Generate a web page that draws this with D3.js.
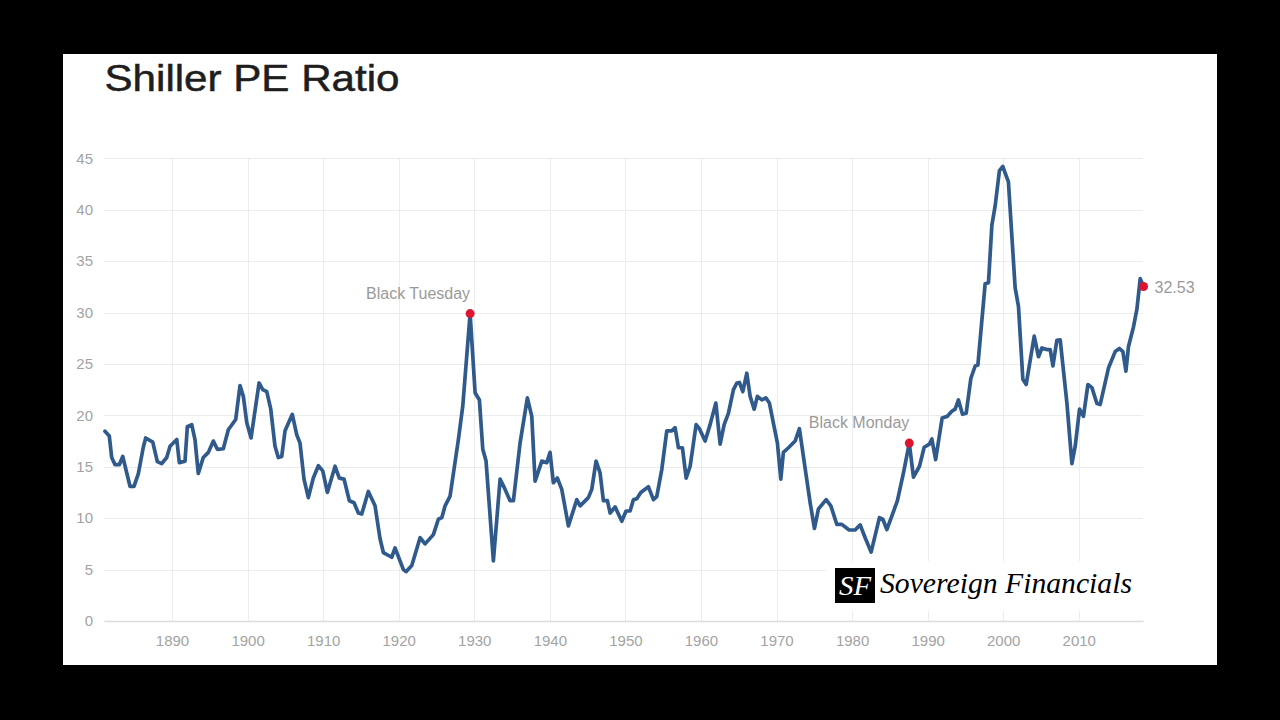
<!DOCTYPE html>
<html><head><meta charset="utf-8">
<script src="https://cdn.jsdelivr.net/npm/d3@7"></script>
<style>html,body{margin:0;padding:0;background:#000;} svg{display:block}</style>
</head><body>
<svg id="c" width="1280" height="720"></svg>
<script>
// ---- data ----
const years = [1881.13,1881.70,1882.02,1882.46,1883.03,1883.48,1884.44,1884.97,1885.54,1886.20,1886.52,1887.45,1888.06,1888.64,1889.30,1889.74,1890.63,1890.97,1891.72,1892.03,1892.61,1893.04,1893.48,1894.14,1894.81,1895.47,1896.00,1896.79,1897.45,1898.43,1899.00,1899.44,1899.89,1900.46,1901.52,1902.01,1902.54,1903.07,1903.63,1904.07,1904.52,1904.96,1905.92,1906.51,1906.94,1907.47,1908.04,1908.70,1909.37,1909.95,1910.56,1911.58,1912.14,1912.77,1913.47,1914.09,1914.66,1915.11,1915.98,1916.87,1917.53,1917.97,1919.08,1919.52,1920.62,1920.97,1921.73,1922.83,1923.49,1924.59,1925.25,1925.70,1926.14,1926.80,1927.90,1928.48,1929.45,1930.11,1930.68,1931.13,1931.56,1932.53,1933.42,1934.08,1934.74,1935.18,1936.06,1937.03,1937.61,1938.05,1938.94,1939.60,1940.03,1940.47,1941.00,1941.58,1942.46,1943.57,1944.01,1945.10,1945.55,1946.12,1946.65,1947.09,1947.62,1947.98,1948.64,1949.52,1950.09,1950.62,1951.06,1951.51,1952.04,1953.05,1953.71,1954.15,1954.82,1955.48,1956.14,1956.58,1957.02,1957.55,1958.04,1958.57,1959.36,1959.80,1960.55,1961.21,1961.97,1962.54,1963.07,1963.63,1964.30,1964.75,1965.09,1965.54,1966.07,1966.51,1967.04,1967.47,1968.06,1968.59,1969.06,1969.68,1970.12,1970.57,1970.91,1971.58,1972.46,1973.03,1973.56,1974.45,1975.02,1975.55,1976.57,1977.19,1977.98,1978.64,1979.61,1980.40,1981.07,1981.73,1982.52,1983.62,1984.07,1984.60,1985.26,1986.00,1986.80,1987.57,1988.12,1988.92,1989.54,1990.24,1990.56,1991.06,1991.92,1992.58,1993.20,1993.64,1994.08,1994.61,1995.10,1995.72,1996.29,1996.65,1997.61,1998.05,1998.50,1998.94,1999.50,1999.95,2000.69,2001.58,2002.02,2002.60,2003.04,2004.10,2004.67,2005.12,2005.78,2006.22,2006.58,2007.10,2007.54,2008.43,2009.09,2009.53,2010.10,2010.62,2011.21,2011.74,2012.40,2012.83,2013.93,2014.82,2015.39,2015.84,2016.24,2016.58,2017.24,2017.69,2018.13,2018.57];
const peValues = [18.46,18.0,15.9,15.2,15.2,16.0,13.1,13.1,14.3,16.9,17.8,17.4,15.5,15.3,15.9,17.0,17.65,15.4,15.55,18.9,19.1,17.65,14.35,15.9,16.4,17.5,16.7,16.75,18.6,19.6,22.9,21.85,19.3,17.8,23.15,22.5,22.3,20.6,17.0,15.9,16.0,18.5,20.1,18.1,17.3,13.8,12.0,13.9,15.1,14.6,12.5,15.05,13.9,13.8,11.7,11.5,10.5,10.4,12.6,11.2,8.0,6.66,6.2,7.1,5.0,4.8,5.4,8.1,7.5,8.4,9.9,10.05,11.2,12.15,17.65,20.9,29.9,22.2,21.5,16.7,15.55,5.85,13.8,12.8,11.7,11.7,17.3,21.7,19.9,13.6,15.55,15.4,16.4,13.45,13.9,12.8,9.25,11.8,11.2,12.0,12.8,15.55,14.4,11.7,11.7,10.5,11.1,9.7,10.7,10.7,11.8,11.9,12.5,13.05,11.8,12.1,14.75,18.5,18.5,18.8,16.85,16.85,13.9,15.05,19.1,18.7,17.5,19.1,21.2,17.2,19.1,20.2,22.5,23.15,23.2,22.3,24.1,21.85,20.6,21.85,21.5,21.7,21.2,18.9,17.3,13.8,16.4,16.85,17.5,18.7,16.0,11.5,9.0,10.9,11.8,11.2,9.4,9.4,8.85,8.85,9.35,8.1,6.7,10.05,9.9,8.9,10.2,11.7,14.4,17.3,14.0,15.05,16.9,17.2,17.7,15.7,19.75,19.9,20.4,20.6,21.5,20.1,20.2,23.6,24.8,24.9,32.8,32.9,38.5,40.4,43.8,44.2,42.7,32.4,30.6,23.5,23.0,27.7,25.7,26.55,26.4,26.4,24.8,27.3,27.35,21.2,15.3,17.0,20.6,19.9,23.0,22.7,21.15,21.05,24.6,26.2,26.5,26.2,24.3,26.7,28.6,30.3,33.3,32.53];
const yTickValues = [0,5,10,15,20,25,30,35,40,45];
const xTickValues = [1890,1900,1910,1920,1930,1940,1950,1960,1970,1980,1990,2000,2010];
const annotationLabels = ["Black Tuesday","Black Monday"];
const annotationYears = [1929.45,1987.57];
const lastLabel = "32.53";
const titleText = "Shiller PE Ratio";
const logoMark = "SF";
const logoText = "Sovereign Financials";

// ---- drawing ----
const svg = d3.select("#c");
svg.append("rect").attr("x",0).attr("y",0).attr("width",1280).attr("height",720).attr("fill","#000");
svg.append("rect").attr("x",63).attr("y",54).attr("width",1154).attr("height",611).attr("fill","#fff");

const L = 104, R = 1143, T = 158.3, B = 621;
const x = d3.scaleLinear().domain([1881, 2018.5]).range([L, R]);
const y = d3.scaleLinear().domain([0, 45]).range([B, T]);
const font = "'Liberation Sans', Arial, Helvetica, sans-serif";

svg.append("text").attr("x",104.5).attr("y",91).attr("font-family",font).attr("font-size",37)
  .attr("fill","#1e1e1e").attr("stroke","#1e1e1e").attr("stroke-width",0.5)
  .attr("textLength",295).attr("lengthAdjust","spacingAndGlyphs").text(titleText);

// grid
const g = svg.append("g");
g.selectAll("line.h").data(yTickValues.filter(v=>v>0)).join("line")
  .attr("x1",L).attr("x2",R).attr("y1",d=>Math.round(y(d))+0.5).attr("y2",d=>Math.round(y(d))+0.5)
  .attr("stroke","#ececec").attr("stroke-width",1);
g.selectAll("line.v").data(xTickValues).join("line")
  .attr("x1",d=>Math.round(x(d))+0.5).attr("x2",d=>Math.round(x(d))+0.5).attr("y1",T).attr("y2",B)
  .attr("stroke","#ececec").attr("stroke-width",1);

// axes via d3
const yAxis = d3.axisLeft(y).tickValues(yTickValues).tickSize(0).tickPadding(11);
const ya = svg.append("g").attr("transform",`translate(${L},0)`).call(yAxis);
ya.select(".domain").remove();
ya.selectAll("text").attr("font-family",font).attr("font-size",15).attr("fill","#a3a3a3");

const xAxis = d3.axisBottom(x).tickValues(xTickValues).tickFormat(d3.format("d")).tickSize(0).tickPadding(14);
const xa = svg.append("g").attr("transform",`translate(0,${B})`).call(xAxis);
xa.select(".domain").attr("stroke","#dcdcdc").attr("stroke-width",1.5);
xa.selectAll("text").attr("font-family",font).attr("font-size",15).attr("fill","#a3a3a3");

// logo background covering grid
svg.append("rect").attr("x",826).attr("y",561).attr("width",R-826).attr("height",50).attr("fill","#fff");
svg.append("rect").attr("x",835).attr("y",568).attr("width",40).attr("height",35).attr("fill","#000");
svg.append("text").attr("x",855).attr("y",595).attr("text-anchor","middle")
  .attr("font-family","'Liberation Serif','DejaVu Serif',serif").attr("font-style","italic")
  .attr("font-size",27).attr("fill","#fff").attr("textLength",32).attr("lengthAdjust","spacingAndGlyphs").text(logoMark);
svg.append("text").attr("x",880).attr("y",593)
  .attr("font-family","'Liberation Serif','DejaVu Serif',serif").attr("font-style","italic")
  .attr("font-size",29.5).attr("fill","#000").attr("textLength",252).attr("lengthAdjust","spacingAndGlyphs").text(logoText);

// line
const pts = years.map((yr,i)=>[yr, peValues[i]]);
const line = d3.line().x(d=>x(d[0])).y(d=>y(d[1]));
svg.append("path").datum(pts).attr("d",line).attr("fill","none")
  .attr("stroke","#2f5a8b").attr("stroke-width",3.7).attr("stroke-linejoin","round").attr("stroke-linecap","round");

// annotations
annotationYears.forEach((yr,i)=>{
  const idx = years.indexOf(yr);
  const v = peValues[idx];
  svg.append("circle").attr("cx",x(yr)).attr("cy",y(v)).attr("r",4.5).attr("fill","#dc1430");
  svg.append("text").attr("x",x(yr)).attr("y",y(v)-15).attr("text-anchor","end")
    .attr("font-family",font).attr("font-size",16).attr("fill","#9a9a9a").text(annotationLabels[i]);
});
const lastI = years.length-1;
svg.append("circle").attr("cx",x(years[lastI])).attr("cy",y(peValues[lastI])).attr("r",4.5).attr("fill","#dc1430");
svg.append("text").attr("x",x(years[lastI])+11).attr("y",y(peValues[lastI])+6)
  .attr("font-family",font).attr("font-size",16).attr("fill","#9a9a9a").text(lastLabel);
</script>
</body></html>
